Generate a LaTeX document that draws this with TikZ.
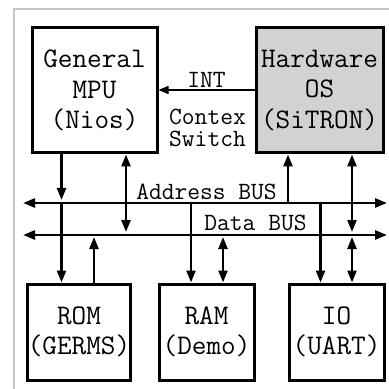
\documentclass[tikz,border=0pt]{standalone}
\usepackage{fontspec}
\usetikzlibrary{arrows.meta}

\begin{document}
\begin{tikzpicture}[
  x=0.5pt,y=-0.5pt,
  font=\ttfamily\fontsize{14.2}{15.25}\selectfont,
  blk/.style={draw,line width=1.5pt,minimum width=62.5pt,minimum height=62.5pt,
              align=center,inner sep=0pt},
  osblk/.style={blk,fill=gray!35,minimum width=63.5pt},
  mem/.style={blk,minimum width=47.5pt,minimum height=48pt},
  lbl/.style={font=\ttfamily\fontsize{12.4}{11}\selectfont,align=center,inner sep=0pt},
  bus/.style={{Triangle[length=6pt,width=4.5pt]}-{Triangle[length=6pt,width=4.5pt]},line width=1.3pt},
  arr/.style={-{Triangle[length=6pt,width=4.5pt]},line width=1.2pt},
  dblarr/.style={{Triangle[length=6pt,width=4.5pt]}-{Triangle[length=6pt,width=4.5pt]},line width=1.2pt},
  intarr/.style={-{Triangle[length=5pt,width=4pt]},line width=0.8pt}
]
\useasboundingbox (0,0) rectangle (389,389);
% outer frame
\draw[gray!45,line width=1pt] (14,389) |- (389,9);

% processors
\node[blk]   (mpu) at (94.5,90.5)  {General\\MPU\\(Nios)};
\node[osblk] (os)  at (319.5,90.5) {Hardware\\OS\\(SiTRON)};
% memories and io
\node[mem] (rom) at (79,332)    {ROM\\(GERMS)};
\node[mem] (ram) at (206.5,332) {RAM\\(Demo)};
\node[mem] (io)  at (336.5,332) {IO\\(UART)};

% buses
\coordinate (abL) at (23,203);  \coordinate (abR) at (387,203);
\coordinate (dbL) at (23,235);  \coordinate (dbR) at (387,235);
\draw[bus] (abL) -- (abR);
\draw[bus] (dbL) -- (dbR);
\node[lbl] (ablbl) at (206.5,192) {Address BUS};
\node[lbl] (dblbl) at (255.5,223) {Data BUS};

% interrupt
\draw[intarr] (os.west |- 0,90) -- (mpu.east |- 0,90);
\node[lbl] (intlbl) at (206.5,80)  {INT};
\node[lbl] (ctxlbl) at (207.5,128) {Contex\\Switch};

% links to the buses
\draw[arr,shorten >=1.5pt] (61.5,0 |- mpu.south) -- (61.5,0 |- abL);
\draw[dblarr,shorten >=1.5pt] (126,0 |- mpu.south) -- (126,0 |- dbL);
\draw[arr] (288,0 |- abL) -- (288,0 |- os.south);
\draw[dblarr,shorten >=1.5pt] (352,0 |- os.south) -- (352,0 |- dbL);
\foreach \x/\dst in {61.5/rom, 191/ram, 320.5/io}
  \draw[arr] (\x,0 |- abL) -- (\x,0 |- \dst.north);
\draw[arr,shorten >=1pt] (94,0 |- rom.north) -- (94,0 |- dbL);
\foreach \x/\dst in {223/ram, 352/io}
  \draw[dblarr,shorten <=1pt] (\x,0 |- dbL) -- (\x,0 |- \dst.north);
\end{tikzpicture}
\end{document}
